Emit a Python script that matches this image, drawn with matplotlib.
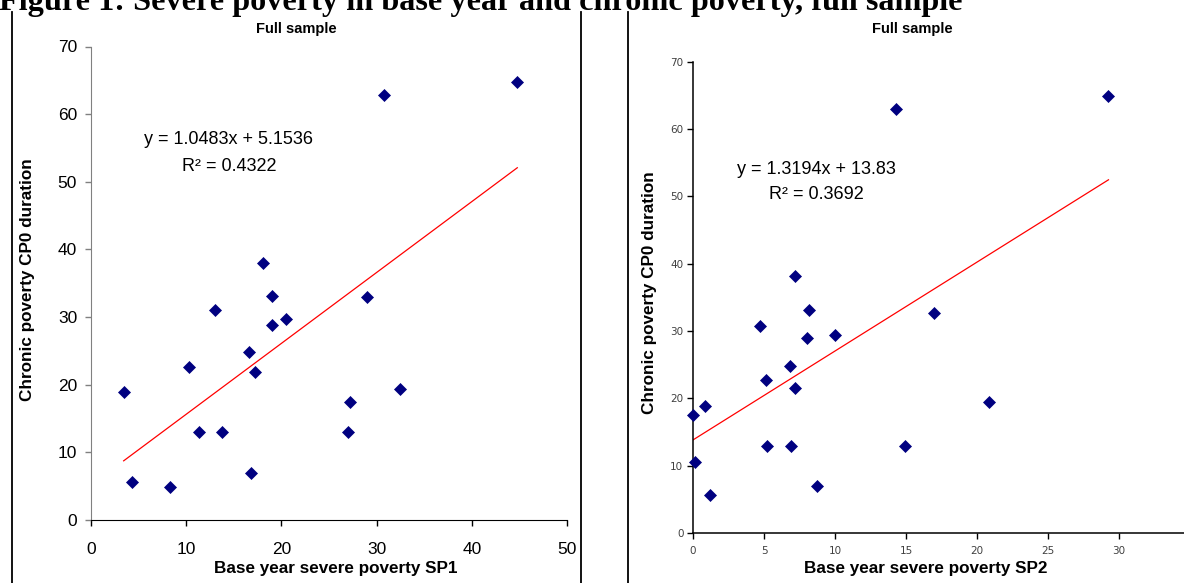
import matplotlib.pyplot as plt
import numpy as np

# data
sp1 = [3.43, 4.34, 8.32, 10.30, 11.39, 13.02, 13.74, 16.63, 16.85, 17.25,
       19.02, 19.02, 20.46, 27.0, 27.22, 29.0, 32.43, 18.11, 30.77, 44.76]
cp0_left = [18.85, 5.6, 4.85, 22.65, 12.95, 31.0, 12.95, 24.85, 7.0, 21.85,
            33.15, 28.85, 29.65, 12.95, 17.5, 32.9, 19.4, 38.05, 62.9, 64.75]

sp2 = [0.0, 0.12, 0.86, 1.22, 4.74, 5.13, 5.23, 6.80, 6.92, 7.19,
       8.04, 8.14, 8.75, 9.98, 14.91, 16.99, 20.88, 7.19, 14.33, 29.27]
cp0_right = [17.54, 10.5, 18.9, 5.63, 30.75, 22.66, 12.96, 24.82, 12.96, 21.6,
             28.9, 33.17, 6.98, 29.45, 12.96, 32.66, 19.45, 38.2, 62.9, 64.85]

# trendline coefficients as printed on the chart
fit_left = (1.0483, 5.1536, 0.4322)
fit_right = (1.3194, 13.83, 0.3692)

W, H = 1184, 583
NAVY = '#000080'


def fx(x):
    return x / W


def fy(y):
    return 1 - y / H


def box(left, top, right, bottom):
    return [fx(left), fy(bottom), fx(right) - fx(left), fy(top) - fy(bottom)]


fig = plt.figure(figsize=(W / 100, H / 100), dpi=100)
fig.patch.set_facecolor('white')

# figure heading, cut at the top like the scanned page
fig.text(fx(-1), fy(10), 'Figure 1: Severe poverty in base year and chronic poverty, full sample',
         family='Liberation Serif', weight='bold', fontsize=23.2, ha='left', va='baseline')

# frame lines of the pasted charts
for xv in [12.3, 581, 628]:
    fig.add_artist(plt.Line2D([fx(xv), fx(xv)], [fy(12), 0], color='black', lw=1.3))


def scatter_panel(ax, xs, ys, fit, xmax, xstep):
    a, b, r2 = fit
    ax.plot(xs, ys, linestyle='none', marker='D', ms=5.8, color=NAVY, mec=NAVY, mew=0.5,
            clip_on=False, zorder=3)
    xl = np.array([min(xs), max(xs)])
    ax.plot(xl, a * xl + b, color='red', lw=0.9, zorder=2)
    ax.set_xlim(0, xmax)
    ax.set_ylim(0, 70)
    ax.set_xticks(np.arange(0, xmax + 0.1, xstep))
    ax.set_yticks(np.arange(0, 71, 10))
    for s in ['top', 'right']:
        ax.spines[s].set_visible(False)
    ax.set_facecolor('none')


# left panel
ax1 = fig.add_axes(box(91, 46.5, 567.2, 520))
scatter_panel(ax1, sp1, cp0_left, fit_left, 50, 10)
ax1.spines['left'].set_color('#808080')
ax1.spines['bottom'].set_color('black')
ax1.tick_params(axis='y', colors='#808080', labelcolor='black', length=4, width=1, direction='out')
ax1.tick_params(axis='x', colors='black', length=4, width=1, direction='out', pad=11.5)
for lab in ax1.get_xticklabels() + ax1.get_yticklabels():
    lab.set_family('Liberation Sans')
    lab.set_fontsize(12.5)
ax1.tick_params(axis='y', pad=6)

# right panel, its right end runs past the picture edge
ax2 = fig.add_axes(box(693.1, 61.6, 1189.8, 533))
scatter_panel(ax2, sp2, cp0_right, fit_right, 35, 5)
for s in ['left', 'bottom']:
    ax2.spines[s].set_color('black')
    ax2.spines[s].set_linewidth(1.1)
ax2.tick_params(length=4, width=1, direction='out', colors='black', labelcolor='#404040')
ax2.tick_params(axis='x', pad=5)
ax2.tick_params(axis='y', pad=3)
for lab in ax2.get_xticklabels() + ax2.get_yticklabels():
    lab.set_family('DejaVu Sans')
    lab.set_fontsize(7.5)

# titles, axis labels, equations
lab_font = dict(family='Liberation Sans', weight='bold', fontsize=12.3)
fig.text(fx(296), fy(29), 'Full sample', ha='center', va='center',
         family='Liberation Sans', weight='bold', fontsize=10.5)
fig.text(fx(912), fy(29), 'Full sample', ha='center', va='center',
         family='Liberation Sans', weight='bold', fontsize=10.5)

fig.text(fx(336), fy(568), 'Base year severe poverty SP1', ha='center', va='center', **lab_font)
fig.text(fx(926), fy(569), 'Base year severe poverty SP2', ha='center', va='center', **lab_font)
fig.text(fx(28), fy(280), 'Chronic poverty CP0 duration', ha='center', va='center',
         rotation=90, **lab_font)
fig.text(fx(649.5), fy(293), 'Chronic poverty CP0 duration', ha='center', va='center',
         rotation=90, **lab_font)

eq_font = dict(family='Liberation Sans', fontsize=13, ha='center', va='center')
fig.text(fx(229), fy(140), 'y = %.4fx + %.4f' % (fit_left[0], fit_left[1]), **eq_font)
fig.text(fx(229), fy(166), 'R² = %.4f' % fit_left[2], **eq_font)
fig.text(fx(816), fy(169), 'y = %.4fx + %.2f' % (fit_right[0], fit_right[1]), **eq_font)
fig.text(fx(816), fy(195), 'R² = %.4f' % fit_right[2], **eq_font)

fig.savefig('out.png', dpi=100)
